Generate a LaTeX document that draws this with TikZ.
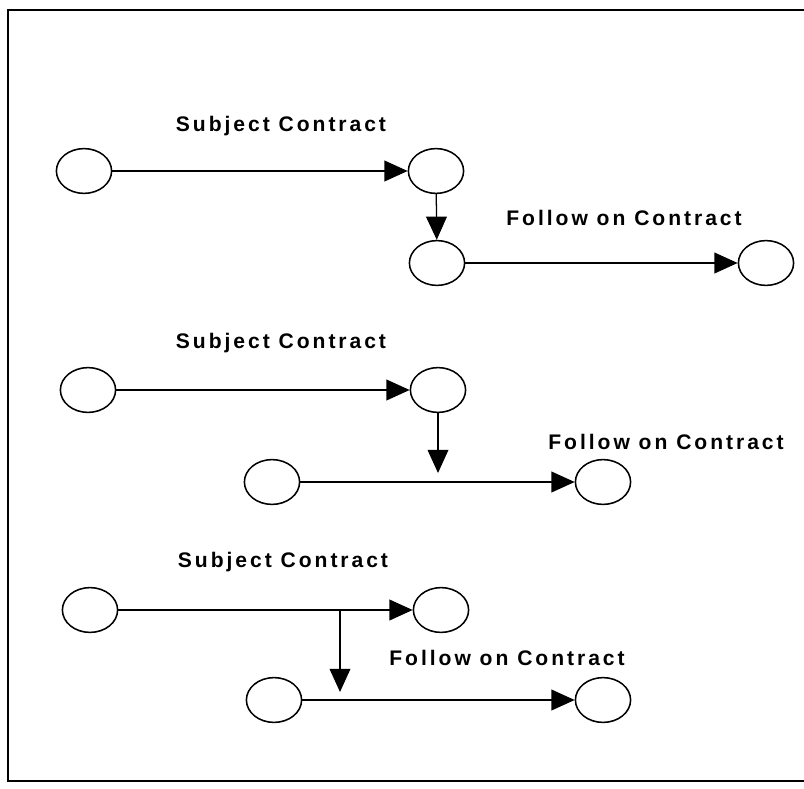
\documentclass[tikz,border=0pt]{standalone}
\usepackage{fontspec}
\newfontfamily\lblfont[LetterSpace=14]{Liberation Sans}
\usepackage{tikz}
\usetikzlibrary{arrows.meta,positioning,shapes.geometric}
\tikzset{
  evt/.style={draw=black, ellipse, line width=1.1pt, minimum width=13.8mm, minimum height=11.2mm, inner sep=0pt},
  arrow/.style={-{Triangle[length=5.8mm,width=5.2mm]}, line width=0.9pt},
  frame/.style={draw=black, line width=1.3pt}
}
\begin{document}
\begin{tikzpicture}[lbl/.style={font=\lblfont\bfseries\fontsize{15}{18}\selectfont}]
\useasboundingbox (0,0) rectangle (20.1,-19.725);
\draw[frame] (20.2,-0.25) -- (0.2,-0.25) -- (0.2,-19.525) -- (20.2,-19.525);
% first case
\node[evt] (start1) at (2.1,-4.275) {};
\node[evt] (end1) at (10.9,-4.275) {};
\node[evt] (fstart1) at (10.925,-6.575) {};
\node[evt] (fend1) at (19.15,-6.575) {};
\draw[arrow] (start1) -- (end1);
\draw[arrow] (end1) -- (fstart1);
\draw[arrow] (fstart1) -- (fend1);
\node[lbl] (sub1) at (7.025,-3.15) {Subject Contract};
\node[lbl] (fol1) at (15.6,-5.45) {Follow on Contract};
% second case
\node[evt] (start2) at (2.2,-9.75) {};
\node[evt] (end2) at (10.95,-9.75) {};
\node[evt] (fstart2) at (6.8,-12.05) {};
\node[evt] (fend2) at (15.075,-12.05) {};
\coordinate (drop2) at (10.95,-11.825);
\draw[arrow] (start2) -- (end2);
\draw[arrow] (end2) -- (drop2);
\draw[arrow] (fstart2) -- (fend2);
\node[lbl] (sub2) at (7.025,-8.575) {Subject Contract};
\node[lbl] (fol2) at (16.65,-11.05) {Follow on Contract};
% third case
\node[evt] (start3) at (2.25,-15.25) {};
\node[evt] (end3) at (11.025,-15.25) {};
\node[evt] (fstart3) at (6.85,-17.5) {};
\node[evt] (fend3) at (15.075,-17.5) {};
\coordinate (split3) at (8.5,-15.25);
\coordinate (drop3) at (8.5,-17.3);
\draw[arrow] (start3) -- (end3);
\draw[arrow] (split3) -- (drop3);
\draw[arrow] (fstart3) -- (fend3);
\node[lbl] (sub3) at (7.075,-14.05) {Subject Contract};
\node[lbl] (fol3) at (12.675,-16.45) {Follow on Contract};
\end{tikzpicture}
\end{document}
